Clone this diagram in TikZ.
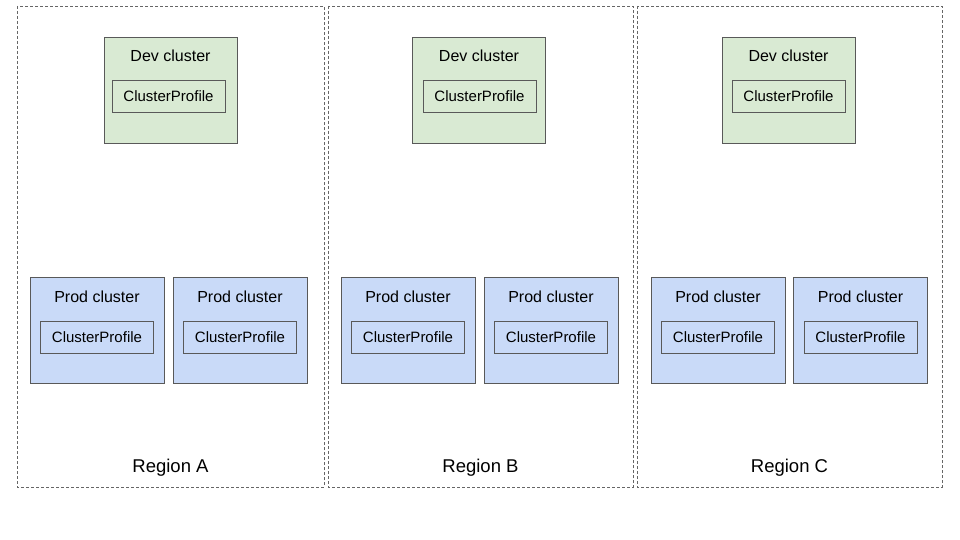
\documentclass[tikz,border=0pt]{standalone}
\usepackage{fontspec}
\setmainfont{Liberation Sans}
\definecolor{devfill}{HTML}{D9EAD3}
\definecolor{prodfill}{HTML}{C9DAF8}
\definecolor{edge}{HTML}{595959}
\definecolor{regedge}{HTML}{666666}
\begin{document}
\begin{tikzpicture}[x=1pt,y=1pt,
  region/.style={draw=regedge, dash pattern=on 3pt off 2pt, line width=0.8pt, fill=none},
  devbox/.style={draw=edge, fill=devfill, line width=0.8pt, minimum width=133pt, minimum height=106pt, inner sep=0pt},
  prodbox/.style={draw=edge, fill=prodfill, line width=0.8pt, minimum width=134pt, minimum height=106pt, inner sep=0pt},
  profbox/.style={draw=edge, line width=0.8pt, minimum width=113pt, minimum height=32pt, inner sep=0pt, font=\fontsize{15}{17}\selectfont},
  title/.style={font=\fontsize{16}{18}\selectfont, inner sep=0pt},
  reglabel/.style={font=\fontsize{18.5}{21}\selectfont, inner sep=0pt}]
\useasboundingbox (0,0) rectangle (960,-540);
\fill[white] (0,0) rectangle (960,-540);
% regions
\draw[region] (17,-6) rectangle (324,-487);
\draw[region] (328,-6) rectangle (633,-487);
\draw[region] (637,-6) rectangle (942,-487);
\node[reglabel] (labA) at (170.5,-468) {Region A};
\node[reglabel] (labB) at (480.5,-468) {Region B};
\node[reglabel] (labC) at (789.5,-468) {Region C};
% dev clusters
\foreach \n/\x/\p in {A/170.5/168.5, B/479/479.5, C/788.5/788.5}{
  \node[devbox] (dev\n) at (\x,-90) {};
  \node[title] (devt\n) at (\x,-56) {Dev cluster};
  \node[profbox] (devp\n) at (\p,-96) {ClusterProfile};
}
% prod clusters
\foreach \n/\x in {A1/97, A2/240, B1/408, B2/551, C1/718, C2/860.5}{
  \node[prodbox] (prod\n) at (\x,-330) {};
  \node[title] (prodt\n) at (\x,-297) {Prod cluster};
  \node[profbox] (prodp\n) at (\x,-337) {ClusterProfile};
}
\end{tikzpicture}
\end{document}
